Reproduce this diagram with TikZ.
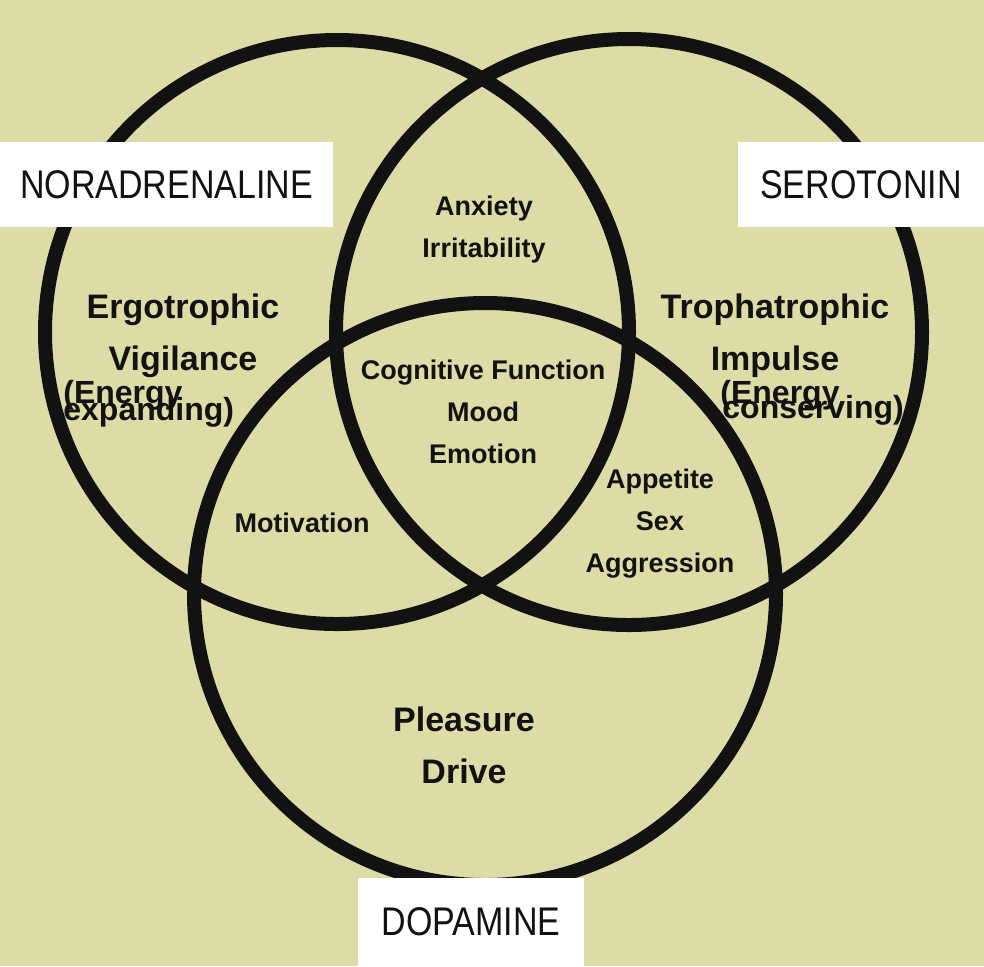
\documentclass[tikz,border=0pt]{standalone}
\usepackage{fontspec}
\setmainfont{Liberation Sans}
\newfontfamily\narrowsans[FakeStretch=0.85]{Liberation Sans}
\usetikzlibrary{positioning}
\definecolor{VennKhaki}{RGB}{221,220,167}
\definecolor{VennInk}{RGB}{18,18,18}

\begin{document}
\begin{tikzpicture}[
    x=0.5pt, y=-0.5pt,
    every node/.style={align=center, text=VennInk, inner sep=0pt},
    ring/.style={draw=VennInk, line width=7pt},
    tag/.style={fill=white, font=\narrowsans\fontsize{20}{24}\selectfont, minimum height=42.5pt},
    region/.style={font=\fontsize{17}{26}\selectfont\bfseries, anchor=base},
    overlap/.style={font=\fontsize{13.5}{21}\selectfont\bfseries, anchor=base},
    aside/.style={font=\fontsize{16}{16}\selectfont\bfseries, anchor=base west}
  ]
    % Background
    \fill[VennKhaki] (0,0) rectangle (984,966);

    % Circles
    \draw[ring] (337,332) circle[radius=146pt];
    \draw[ring] (629,332) circle[radius=146.5pt];
    \draw[ring] (485,594) circle[radius=145.5pt];

    % Transmitters
    \node[tag, minimum width=166.5pt] (nor) at (166.5,184.5) {NORADRENALINE};
    \node[tag, minimum width=123pt] (ser) at (861,184.5) {SEROTONIN};
    \node[tag, minimum width=113pt, minimum height=44pt] (dop) at (471,922) {DOPAMINE};

    % Single regions (anchored on the last baseline)
    \node[region] (ergo) at (183,370) {Ergotrophic\\Vigilance};
    \node[aside] (ergoa) at (63,403) {(Energy};
    \node[aside] (ergob) at (63,420) {expanding)};
    \node[region] (tropho) at (775,370) {Trophatrophic\\Impulse};
    \node[aside] (tropha) at (720,403) {(Energy};
    \node[aside] (trophb) at (722,418) {conserving)};
    \node[region] (pleas) at (464,783) {Pleasure\\Drive};

    % Overlaps
    \node[overlap] (anx) at (484,257) {Anxiety\\Irritability};
    \node[overlap] (cog) at (483,463) {Cognitive Function\\Mood\\Emotion};
    \node[overlap] (moti) at (302,532) {Motivation};
    \node[overlap] (appe) at (660,572) {Appetite\\Sex\\Aggression};
\end{tikzpicture}
\end{document}
